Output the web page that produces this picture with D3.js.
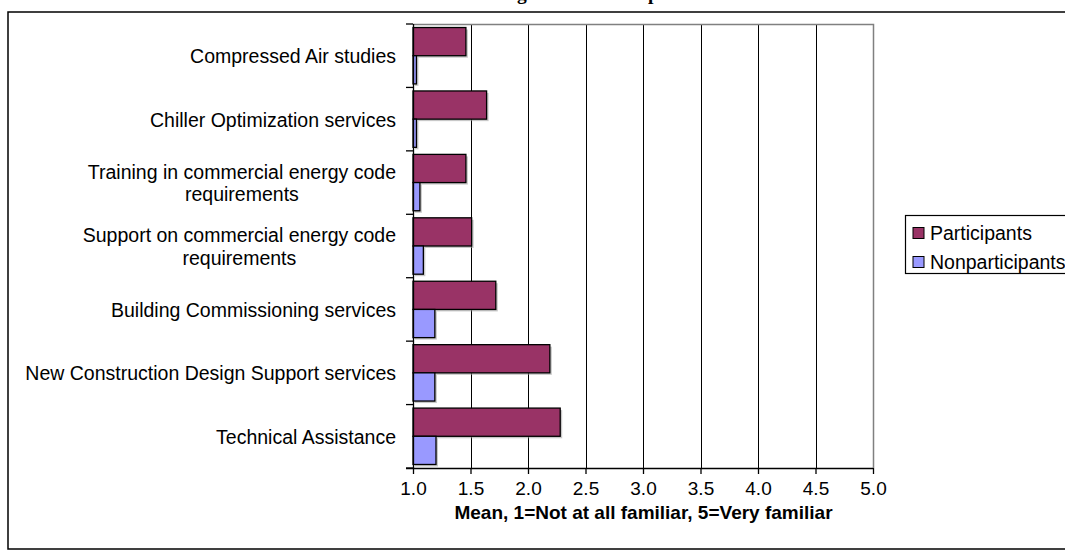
<!DOCTYPE html>
<html>
<head>
<meta charset="utf-8">
<script src="https://cdn.jsdelivr.net/npm/d3@7"></script>
<style>
  html, body { margin: 0; padding: 0; background: #fff; }
  svg { display: block; }
  text { font-family: Arial, "Liberation Sans", sans-serif; fill: #000; }
</style>
</head>
<body>
<div id="chart"></div>
<script>
// Program familiarity: mean rating, participants vs nonparticipants
const categories = [
  ["Compressed Air studies"],
  ["Chiller Optimization services"],
  ["Training in commercial energy code", "requirements"],
  ["Support on commercial energy code", "requirements"],
  ["Building Commissioning services"],
  ["New Construction Design Support services"],
  ["Technical Assistance"]
];
const participants    = [1.46, 1.64, 1.46, 1.51, 1.72, 2.19, 2.28];
const nonparticipants = [1.03, 1.03, 1.06, 1.09, 1.19, 1.19, 1.20];
const seriesNames  = ["Participants", "Nonparticipants"];
const seriesColors = ["#993366", "#9999FF"];
const xTicks = [1.0, 1.5, 2.0, 2.5, 3.0, 3.5, 4.0, 4.5, 5.0];
const xTitle = "Mean, 1=Not at all familiar, 5=Very familiar";
const chartTitle = "Awareness of Design Assistance Options";

const W = 1065, H = 560;
const plot = { left: 413, right: 873, top: 24, bottom: 468 };

const svg = d3.select("#chart").append("svg")
  .attr("width", W).attr("height", H);

// outer chart frame (runs past the right edge of the page)
svg.append("rect")
  .attr("x", 8).attr("y", 12)
  .attr("width", 1080).attr("height", 537)
  .attr("fill", "#fff").attr("stroke", "#000").attr("stroke-width", 1.5);

// title, mostly above the frame
svg.append("text")
  .attr("x", 533).attr("y", 0)
  .attr("text-anchor", "middle")
  .style("font-family", "'Liberation Serif', 'Times New Roman', serif")
  .style("font-weight", "bold")
  .style("font-size", "19.5px")
  .text(chartTitle);

const x = d3.scaleLinear().domain([1, 5]).range([plot.left, plot.right]);
const y = d3.scaleBand()
  .domain(d3.range(categories.length))
  .range([plot.top, plot.bottom])
  .paddingInner(0).paddingOuter(0);
const inner = d3.scaleBand()
  .domain([0, 1])
  .range([0, y.bandwidth()])
  .paddingInner(0)
  .paddingOuter(0.125);   // 50% gap between category groups

// vertical gridlines
svg.append("g").selectAll("line")
  .data(xTicks.filter(t => t > 1 && t < 5))
  .join("line")
  .attr("x1", d => Math.round(x(d)) + 0.5).attr("x2", d => Math.round(x(d)) + 0.5)
  .attr("y1", plot.top).attr("y2", plot.bottom)
  .attr("stroke", "#000").attr("stroke-width", 1);

// plot-area border (top and right)
svg.append("path")
  .attr("d", `M${plot.left},${plot.top + 0.5}H${plot.right + 0.5}V${plot.bottom}`)
  .attr("fill", "none").attr("stroke", "#808080").attr("stroke-width", 1.5);

// bars
const rows = categories.map((c, i) => [participants[i], nonparticipants[i]]);
const groups = svg.append("g").selectAll("g")
  .data(rows)
  .join("g")
  .attr("transform", (d, i) => `translate(0,${y(i)})`);

// soft drop shadow under each bar
groups.selectAll("rect.shadow")
  .data(d => d)
  .join("rect")
  .attr("class", "shadow")
  .attr("x", x(1) + 2)
  .attr("y", (d, j) => inner(j) + 2)
  .attr("width", d => x(d) - x(1))
  .attr("height", inner.bandwidth())
  .attr("fill", "#9a9a9a").attr("opacity", 0.55);

groups.selectAll("rect.bar")
  .data(d => d)
  .join("rect")
  .attr("class", "bar")
  .attr("x", x(1))
  .attr("y", (d, j) => inner(j))
  .attr("width", d => x(d) - x(1))
  .attr("height", inner.bandwidth())
  .attr("fill", (d, j) => seriesColors[j])
  .attr("stroke", "#000").attr("stroke-width", 1.3);

// x axis
const xAxis = d3.axisBottom(x)
  .tickValues(xTicks)
  .tickFormat(d3.format(".1f"))
  .tickSize(6);
const gx = svg.append("g")
  .attr("transform", `translate(0,${plot.bottom})`)
  .call(xAxis);
gx.select(".domain").attr("stroke", "#000").attr("stroke-width", 1.3)
  .attr("d", `M${plot.left - 7},0.5H${plot.right}`);
gx.selectAll(".tick line").attr("stroke", "#000").attr("stroke-width", 1.3);
gx.selectAll(".tick text")
  .attr("y", 26.5).attr("dy", null)
  .style("font-family", "Arial, 'Liberation Sans', sans-serif")
  .style("font-size", "19px").attr("fill", "#000");

// y axis: ticks at category boundaries
const boundaries = d3.range(categories.length + 1).map(i => plot.top + i * y.step());
svg.append("line")
  .attr("x1", plot.left + 0.5).attr("x2", plot.left + 0.5)
  .attr("y1", plot.top).attr("y2", plot.bottom)
  .attr("stroke", "#000").attr("stroke-width", 1.3);
svg.append("g").selectAll("line")
  .data(boundaries)
  .join("line")
  .attr("x1", plot.left - 7).attr("x2", plot.left)
  .attr("y1", d => d).attr("y2", d => d)
  .attr("stroke", "#000").attr("stroke-width", 1.3);

// category labels: block right-aligned, lines centred within block
const labelRight = 396, fs = 19.5, lineH = 22.6;
const labels = svg.append("g").selectAll("text")
  .data(categories)
  .join("text")
  .style("font-size", fs + "px")
  .attr("text-anchor", "middle");
labels.each(function(lines, i) {
  const t = d3.select(this);
  const cy = y(i) + y.bandwidth() / 2;
  const first = cy + 7.6 - (lines.length - 1) * lineH / 2;
  lines.forEach((s, k) => {
    t.append("tspan").attr("y", first + k * lineH).text(s);
  });
  // width of the widest line sets the block centre
  let w = 0;
  t.selectAll("tspan").each(function() { w = Math.max(w, this.getComputedTextLength()); });
  t.selectAll("tspan").attr("x", labelRight - w / 2);
});

// x axis title
svg.append("text")
  .attr("x", (plot.left + plot.right) / 2 + 0.5).attr("y", 519)
  .attr("text-anchor", "middle")
  .style("font-weight", "bold").style("font-size", "19px")
  .text(xTitle);

// legend
const lg = svg.append("g").attr("transform", "translate(905,215)");
lg.append("rect")
  .attr("x", 0.5).attr("y", 0.5).attr("width", 230).attr("height", 58)
  .attr("fill", "#fff").attr("stroke", "#000").attr("stroke-width", 1.2);
const items = lg.selectAll("g.item")
  .data(seriesNames)
  .join("g").attr("class", "item")
  .attr("transform", (d, i) => `translate(0,${18 + i * 29})`);
items.append("rect")
  .attr("x", 8).attr("y", -5.5).attr("width", 11).attr("height", 11)
  .attr("fill", (d, i) => seriesColors[i])
  .attr("stroke", "#000").attr("stroke-width", 1);
items.append("text")
  .attr("x", 25).attr("y", 7)
  .style("font-size", "19.5px")
  .text(d => d);
</script>
</body>
</html>
